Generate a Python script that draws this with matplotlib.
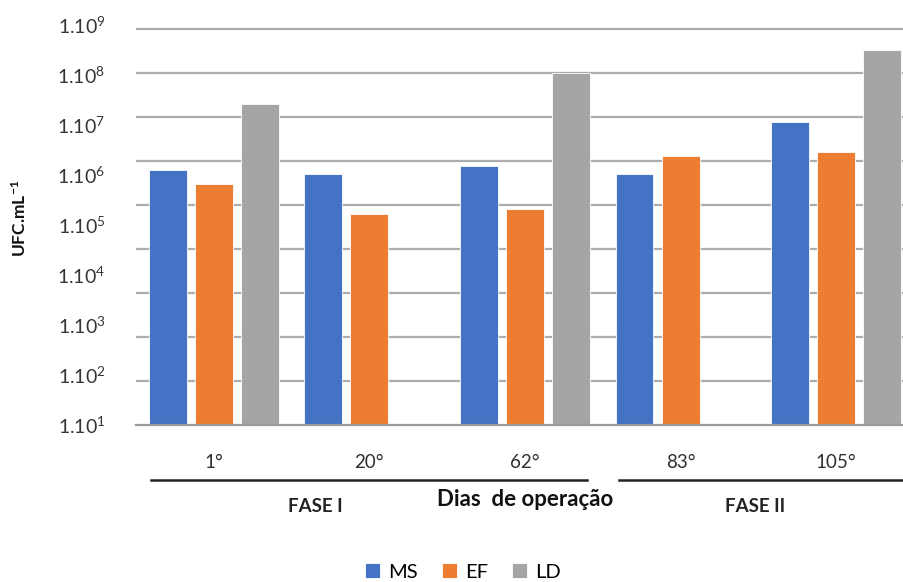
import numpy as np
import matplotlib.pyplot as plt
from matplotlib import transforms
from matplotlib.lines import Line2D

plt.rcParams['font.family'] = ['Lato', 'DejaVu Sans']

# Dados: contagem por dia de operação
dias = ['1°', '20°', '62°', '83°', '105°']
ms = [6.3e5, 5.0e5, 7.8e5, 5.0e5, 7.8e6]
ef = [3.0e5, 6.3e4, 8.3e4, 1.3e6, 1.6e6]
ld = [1.95e7, np.nan, 1.0e8, np.nan, 3.3e8]
series = ['MS', 'EF', 'LD']
cores = ['#4472C4', '#ED7D31', '#A5A5A5']
expoentes = [1, 2, 3, 4, 5, 6, 7, 8, 9]

fig = plt.figure(figsize=(9.04, 5.82), dpi=100)
ax = fig.add_axes([0.1504, 0.2698, 0.8606, 0.6918])

x = np.arange(len(dias))
larg = 0.244
passo = 0.296
for k, (vals, nome, cor) in enumerate(zip([ms, ef, ld], series, cores)):
    ax.bar(x + (k - 1) * passo, vals, width=larg, color=cor, label=nome,
           edgecolor='white', linewidth=0.6, bottom=0, zorder=3)

ax.set_yscale('log')
ax.set_ylim(1, 10 ** 9.15)
ax.set_xlim(-0.5, 4.5)

# linhas de grade em cada década
ax.set_yticks([10.0 ** k for k in range(10)], minor=True)
ax.yaxis.grid(True, which='minor', color='#ADADAD', linewidth=1.6, zorder=0)
ax.tick_params(axis='y', which='minor', length=0, labelleft=False)

# rótulos do eixo y distribuídos ao longo da altura
pos = [10 ** (i * 9.1 / 8) for i in range(len(expoentes))]
ax.set_yticks(pos)
ax.set_yticklabels([r'$\mathregular{1.10^{%d}}$' % e for e in expoentes])
ax.tick_params(axis='y', which='major', length=0, pad=22, labelsize=14,
               labelcolor='#353535')

ax.set_xticks(x)
ax.set_xticklabels(dias)
ax.tick_params(axis='x', length=0, pad=21, labelsize=13.5, labelcolor='#303030')

for s in ['top', 'right', 'left']:
    ax.spines[s].set_visible(False)
ax.spines['bottom'].set_color('#9A9A9A')
ax.spines['bottom'].set_linewidth(1.6)
ax.spines['bottom'].set_zorder(4)

# linhas das fases
tr = transforms.blended_transform_factory(ax.transData, fig.transFigure)
yl = 1 - 480 / 582
fig.add_artist(Line2D([-0.405, 2.397], [yl, yl], transform=tr, color='#222222', lw=1.8))
fig.add_artist(Line2D([2.603, 4.7], [yl, yl], transform=tr, color='#222222', lw=1.8))

fig.text(315 / 904, 1 - 506 / 582, 'FASE I', ha='center', va='center',
         fontsize=13.5, fontweight='bold', color='#222222')
fig.text(755 / 904, 1 - 506 / 582, 'FASE II', ha='center', va='center',
         fontsize=13.5, fontweight='bold', color='#222222')
fig.text(525 / 904, 1 - 500 / 582, 'Dias  de operação', ha='center', va='center',
         fontsize=16, fontweight='bold', color='#111111')

fig.text(20 / 904, 1 - 218 / 582, r'UFC.mL$\mathregular{^{-1}}$', rotation=90,
         ha='center', va='center', fontsize=12.5, fontweight='bold', color='#111111')

fig.legend(loc='center', bbox_to_anchor=(463 / 904, 1 - 572 / 582), ncol=3,
           frameon=False, fontsize=14.5, handlelength=0.75, handleheight=0.75,
           handletextpad=0.4, columnspacing=1.2)

fig.savefig('out.png', dpi=100)
